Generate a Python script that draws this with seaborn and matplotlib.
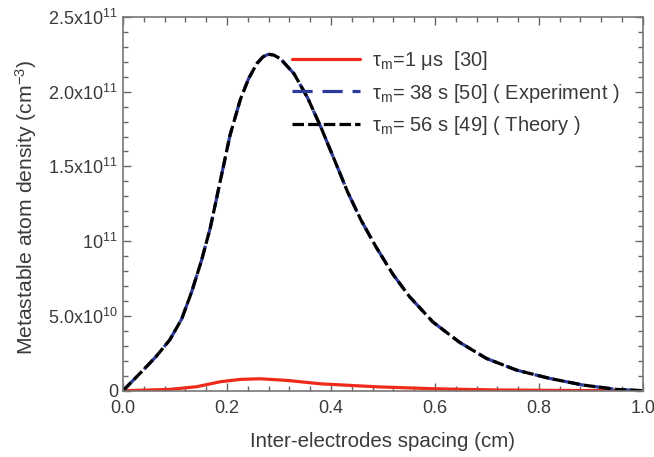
import pandas as pd
import matplotlib
matplotlib.use("Agg")
import matplotlib.pyplot as plt
import seaborn as sns
from matplotlib.ticker import MultipleLocator, FixedLocator, FixedFormatter

# spacing (cm) and metastable density (cm^-3)
x_big = [0.0, 0.042, 0.064, 0.09, 0.113, 0.132, 0.151, 0.168, 0.187, 0.206, 0.226, 0.242,
         0.258, 0.27, 0.28, 0.29, 0.303, 0.329, 0.355, 0.381, 0.406, 0.432, 0.458, 0.487,
         0.519, 0.551, 0.596, 0.647, 0.699, 0.757, 0.82, 0.885, 0.949, 1.0]
y_big = [0.0, 1.49e10, 2.3e10, 3.4e10, 4.8e10, 6.6e10, 8.7e10, 1.09e11, 1.40e11,
         1.71e11, 1.95e11, 2.09e11, 2.19e11, 2.235e11, 2.25e11, 2.245e11, 2.22e11,
         2.12e11, 1.96e11, 1.76e11, 1.55e11, 1.33e11, 1.14e11, 9.6e10, 7.8e10, 6.3e10,
         4.6e10, 3.25e10, 2.16e10, 1.38e10, 8.3e9, 3.8e9, 0.9e9, 0.0]
x_red = [0.0, 0.09, 0.142, 0.187, 0.226, 0.264, 0.316, 0.381, 0.49, 0.6, 0.724, 0.85, 1.0]
y_red = [0.0, 0.9e9, 2.7e9, 6.0e9, 7.6e9, 8.0e9, 6.9e9, 4.6e9, 2.6e9, 1.3e9, 0.5e9,
         0.2e9, 0.0]

labels = ["τ$_m$=1 μs  [30]",
          "τ$_m$= 38 s [50] ( Experiment )",
          "τ$_m$= 56 s [49] ( Theory )"]

ytick_vals = [0, 5e10, 1e11, 1.5e11, 2e11, 2.5e11]
ytick_labels = ["0", "5.0x10$^{10}$", "10$^{11}$", "1.5x10$^{11}$",
                "2.0x10$^{11}$", "2.5x10$^{11}$"]

sns.set_style("ticks")
plt.rcParams["font.family"] = ["Liberation Sans", "DejaVu Sans"]
plt.rcParams["mathtext.fontset"] = "custom"
plt.rcParams["mathtext.rm"] = "Liberation Sans"
plt.rcParams["mathtext.it"] = "Liberation Sans:italic"
plt.rcParams["mathtext.default"] = "regular"

txt = "#3a3a3a"
fig = plt.figure(figsize=(6.54, 4.57), dpi=100)
ax = fig.add_axes([0.188, 0.145, 0.795, 0.818])

df_red = pd.DataFrame({"x": x_red, "y": y_red})
df_big = pd.DataFrame({"x": x_big, "y": y_big})

sns.lineplot(data=df_red, x="x", y="y", ax=ax, color="#ee2a1b", lw=2.3, label=labels[0])
sns.lineplot(data=df_big, x="x", y="y", ax=ax, color="#2b3a9a", lw=2.3,
             linestyle=(0, (6.3, 3.1)), label=labels[1])
sns.lineplot(data=df_big, x="x", y="y", ax=ax, color="black", lw=2.3,
             linestyle=(0, (3.6, 1.3)), label=labels[2])

ax.set_xlim(0, 1.0)
ax.set_ylim(0, 2.5e11)
ax.xaxis.set_major_locator(MultipleLocator(0.2))
ax.xaxis.set_minor_locator(MultipleLocator(0.04))
ax.xaxis.set_major_formatter(plt.FormatStrFormatter("%.1f"))
ax.yaxis.set_major_locator(FixedLocator(ytick_vals))
ax.yaxis.set_major_formatter(FixedFormatter(ytick_labels))
ax.yaxis.set_minor_locator(MultipleLocator(1e10))

ax.tick_params(which="both", direction="in", top=True, right=True, colors="#666666",
               labelcolor=txt, labelsize=13)
ax.tick_params(which="major", length=6, width=1)
ax.tick_params(which="minor", length=3.5, width=1)
ax.tick_params(axis="x", pad=7)
for s in ax.spines.values():
    s.set_color("#777777")
    s.set_linewidth(1.2)

ax.set_xlabel("Inter-electrodes spacing (cm)", fontsize=14.8, color=txt)
ax.xaxis.set_label_coords(0.5, -0.11)
ax.set_ylabel("Metastable atom density (cm$^{-3}$)", fontsize=15.2, color=txt)
ax.yaxis.set_label_coords(-0.162, 0.49)

leg = ax.legend(loc="upper left", bbox_to_anchor=(0.325, 0.914), frameon=False,
                borderpad=0, borderaxespad=0,
                fontsize=14.5, handlelength=3.4, handletextpad=0.6, labelspacing=0.47)
for t in leg.get_texts():
    t.set_color(txt)

fig.savefig("out.png", dpi=100)
